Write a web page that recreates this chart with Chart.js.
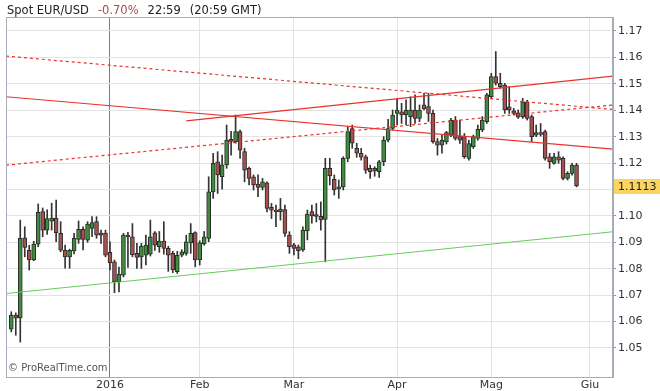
<!DOCTYPE html>
<html>
<head>
<meta charset="utf-8">
<script src="https://cdn.jsdelivr.net/npm/chart.js@4.4.0/dist/chart.umd.min.js"></script>
<style>
  body { margin: 0; background: #fff; }
  #wrap { position: relative; width: 660px; height: 391px; font-family: "DejaVu Sans", Verdana, sans-serif; }
  #title { position: absolute; left: 7px; top: 3px; font-size: 11.5px; color: #222; white-space: nowrap; }
  #title span { margin-left: 9px; }
  #title .chg { color: #a0504c; }
  #copy { position: absolute; left: 8px; top: 362px; font-size: 10px; color: #555; }
</style>
</head>
<body>
<div id="wrap">
  <canvas id="chart"></canvas>
  <div id="title">Spot EUR/USD<span class="chg">-0.70%</span><span>22:59</span><span>(20:59 GMT)</span></div>
  <div id="copy">© ProRealTime.com</div>
</div>
<script>
// EUR/USD daily candles, 1 Dec 2015 .. 27 May 2016, one entry per trading day
const opens = [
  1.0571, 1.0624, 1.0614, 1.0917, 1.0870, 1.0833, 1.0893, 1.1016, 1.0946, 1.0980,
  1.0992, 1.0934, 1.0870, 1.0845, 1.0867, 1.0911, 1.0949, 1.0908, 1.0953, 1.0978,
  1.0935, 1.0935, 1.0862, 1.0826, 1.0750, 1.0776, 1.0927, 1.0921, 1.0858, 1.0845,
  1.0851, 1.0855, 1.0936, 1.0883, 1.0905, 1.0877, 1.0858, 1.0789, 1.0851, 1.0858,
  1.0898, 1.0937, 1.0833, 1.0894, 1.0915, 1.1091, 1.1205, 1.1148, 1.1193, 1.1290,
  1.1281, 1.1319, 1.1243, 1.1180, 1.1148, 1.1120, 1.1108, 1.1125, 1.1032, 1.1022,
  1.1016, 1.1024, 1.0927, 1.0890, 1.0883, 1.0871, 1.0943, 1.1016, 1.1005, 1.0998,
  1.0987, 1.1180, 1.1138, 1.1102, 1.1110, 1.1218, 1.1331, 1.1256, 1.1237, 1.1224,
  1.1180, 1.1180, 1.1167, 1.1205, 1.1287, 1.1331, 1.1388, 1.1394, 1.1382, 1.1376,
  1.1401, 1.1369, 1.1420, 1.1414, 1.1388, 1.1281, 1.1268, 1.1280, 1.1306, 1.1363,
  1.1300, 1.1300, 1.1218, 1.1262, 1.1293, 1.1325, 1.1357, 1.1451, 1.1527, 1.1502,
  1.1495, 1.1413, 1.1398, 1.1390, 1.1376, 1.1432, 1.1376, 1.1306, 1.1315, 1.1319,
  1.1224, 1.1199, 1.1224, 1.1218, 1.1142, 1.1161, 1.1192
];
const highs = [
  1.0637, 1.0633, 1.0984, 1.0959, 1.0889, 1.0904, 1.1045, 1.1030, 1.1023, 1.1048,
  1.1060, 1.0978, 1.0889, 1.0874, 1.0934, 1.0981, 1.0959, 1.0978, 1.0997, 1.0997,
  1.0946, 1.0946, 1.0902, 1.0833, 1.0806, 1.0934, 1.0938, 1.0971, 1.0896, 1.0896,
  1.0927, 1.0984, 1.0941, 1.0941, 1.0978, 1.0885, 1.0866, 1.0866, 1.0872, 1.0927,
  1.0971, 1.0940, 1.0906, 1.0941, 1.1148, 1.1237, 1.1243, 1.1230, 1.1344, 1.1320,
  1.1382, 1.1325, 1.1256, 1.1185, 1.1155, 1.1155, 1.1142, 1.1129, 1.1047, 1.1041,
  1.1066, 1.1041, 1.0940, 1.0896, 1.0890, 1.0959, 1.1022, 1.1041, 1.1047, 1.1053,
  1.1218, 1.1218, 1.1155, 1.1136, 1.1224, 1.1338, 1.1344, 1.1275, 1.1256, 1.1230,
  1.1192, 1.1186, 1.1210, 1.1300, 1.1366, 1.1401, 1.1445, 1.1426, 1.1439, 1.1451,
  1.1458, 1.1420, 1.1464, 1.1464, 1.1401, 1.1293, 1.1306, 1.1320, 1.1369, 1.1376,
  1.1363, 1.1312, 1.1287, 1.1306, 1.1344, 1.1376, 1.1464, 1.1540, 1.1622, 1.1540,
  1.1502, 1.1489, 1.1407, 1.1401, 1.1445, 1.1438, 1.1382, 1.1344, 1.1350, 1.1325,
  1.1237, 1.1237, 1.1243, 1.1224, 1.1167, 1.1199, 1.1199
];
const lows = [
  1.0561, 1.0548, 1.0522, 1.0845, 1.0795, 1.0830, 1.0883, 1.0921, 1.0930, 1.0946,
  1.0902, 1.0864, 1.0802, 1.0802, 1.0856, 1.0896, 1.0871, 1.0900, 1.0921, 1.0915,
  1.0896, 1.0845, 1.0795, 1.0709, 1.0712, 1.0769, 1.0805, 1.0845, 1.0801, 1.0801,
  1.0814, 1.0848, 1.0869, 1.0862, 1.0855, 1.0790, 1.0785, 1.0782, 1.0845, 1.0851,
  1.0858, 1.0807, 1.0814, 1.0889, 1.0902, 1.1066, 1.1085, 1.1101, 1.1180, 1.1230,
  1.1275, 1.1218, 1.1129, 1.1117, 1.1098, 1.1073, 1.1098, 1.1015, 1.0990, 1.0959,
  1.0984, 1.0922, 1.0858, 1.0852, 1.0838, 1.0865, 1.0909, 1.0972, 1.0977, 1.0946,
  1.0826, 1.1117, 1.1079, 1.1066, 1.1098, 1.1205, 1.1256, 1.1222, 1.1211, 1.1161,
  1.1142, 1.1150, 1.1146, 1.1190, 1.1280, 1.1325, 1.1344, 1.1350, 1.1344, 1.1338,
  1.1350, 1.1357, 1.1401, 1.1357, 1.1275, 1.1230, 1.1237, 1.1272, 1.1300, 1.1287,
  1.1274, 1.1218, 1.1211, 1.1255, 1.1287, 1.1319, 1.1350, 1.1445, 1.1495, 1.1483,
  1.1388, 1.1388, 1.1382, 1.1369, 1.1369, 1.1363, 1.1281, 1.1300, 1.1302, 1.1211,
  1.1180, 1.1196, 1.1199, 1.1136, 1.1136, 1.1154, 1.1110
];
const closes = [
  1.0624, 1.0613, 1.0915, 1.0881, 1.0833, 1.0893, 1.1013, 1.0946, 1.0990, 1.0992,
  1.0936, 1.0870, 1.0845, 1.0870, 1.0915, 1.0949, 1.0911, 1.0969, 1.0975, 1.0927,
  1.0927, 1.0851, 1.0822, 1.0750, 1.0780, 1.0927, 1.0920, 1.0852, 1.0843, 1.0886,
  1.0889, 1.0921, 1.0889, 1.0905, 1.0877, 1.0851, 1.0795, 1.0851, 1.0864, 1.0902,
  1.0934, 1.0833, 1.0898, 1.0921, 1.1091, 1.1199, 1.1155, 1.1193, 1.1287, 1.1282,
  1.1319, 1.1249, 1.1173, 1.1142, 1.1117, 1.1108, 1.1129, 1.1028, 1.1022, 1.1016,
  1.1026, 1.0934, 1.0883, 1.0877, 1.0868, 1.0946, 1.1007, 1.1000, 1.0998, 1.0985,
  1.1180, 1.1151, 1.1098, 1.1110, 1.1218, 1.1319, 1.1275, 1.1237, 1.1222, 1.1173,
  1.1167, 1.1170, 1.1205, 1.1287, 1.1331, 1.1382, 1.1401, 1.1382, 1.1401, 1.1401,
  1.1369, 1.1401, 1.1405, 1.1388, 1.1281, 1.1268, 1.1287, 1.1315, 1.1363, 1.1293,
  1.1287, 1.1224, 1.1274, 1.1300, 1.1328, 1.1363, 1.1458, 1.1527, 1.1502, 1.1489,
  1.1401, 1.1401, 1.1388, 1.1374, 1.1432, 1.1369, 1.1300, 1.1315, 1.1308, 1.1218,
  1.1205, 1.1224, 1.1211, 1.1142, 1.1161, 1.1192, 1.1113
];

// first trading day of each month (bar index) and its label
const monthIdx = [22, 42, 63, 86, 107, 129];
const monthLabels = ['2016', 'Feb', 'Mar', 'Apr', 'Mag', 'Giu'];
const priceTicks = [1.05, 1.06, 1.07, 1.08, 1.09, 1.10, 1.11, 1.12, 1.13, 1.14, 1.15, 1.16, 1.17];

// trend lines as [bar index, price] pairs
const lineDownSolid = [[-1.18, 1.1451], [134.13, 1.1253]];
const lineUpSolid = [[39.0, 1.1360], [134.13, 1.1529]];
const lineDownDashed = [[-1.18, 1.1605], [134.13, 1.1403]];
const lineUpDashed = [[-1.18, 1.1192], [134.13, 1.1420]];
const lineSupport = [[-1.18, 1.0706], [134.13, 1.0940]];

const GREEN = '#3f8c3f';
const RED = '#a65050';
const TREND_RED = '#e8332c';
const AXIS = '#a3aeb8';
const GRID = '#e3e3e3';

Chart.defaults.font.family = '"DejaVu Sans", Verdana, sans-serif';
Chart.defaults.font.size = 11;
Chart.defaults.color = '#333';

const trend = (pts, color, dash) => ({
    type: 'line',
    data: pts.map(p => ({ x: p[0], y: p[1] })),
    borderColor: color,
    borderWidth: 1.2,
    borderDash: dash || [],
    pointRadius: 0,
    order: 0
});

const wicks = opens.map((o, i) => ({ x: i, y: [lows[i], highs[i]] }));
const bodies = opens.map((o, i) => ({ x: i, y: [o, closes[i]] }));
const bodyColors = opens.map((o, i) => closes[i] >= o ? GREEN : RED);

// plot frame + last price badge on the price axis
const framePlugin = {
    id: 'frame',
    afterDraw(chart) {
        const { ctx, chartArea: a, scales } = chart;
        ctx.save();
        ctx.strokeStyle = AXIS;
        ctx.lineWidth = 1;
        ctx.strokeRect(a.left + 0.5, a.top + 0.5, a.right - a.left - 1, a.bottom - a.top);

        const last = closes[closes.length - 1];
        const y = Math.round(scales.y.getPixelForValue(last));
        ctx.fillStyle = '#fbd462';
        ctx.fillRect(a.right + 1, y - 7, chart.width - a.right - 1, 15);
        ctx.fillStyle = '#222';
        ctx.font = '11px "DejaVu Sans"';
        ctx.textBaseline = 'middle';
        ctx.fillText(last.toFixed(4), a.right + 5, y + 1);
        ctx.restore();
    }
};

const config = {
    type: 'bar',
    data: {
        datasets: [
            trend(lineDownSolid, TREND_RED),
            trend(lineUpSolid, TREND_RED),
            trend(lineDownDashed, TREND_RED, [3, 3]),
            trend(lineUpDashed, TREND_RED, [3, 3]),
            { ...trend(lineSupport, '#66cc5c'), borderWidth: 1 },
            {
                data: bodies,
                backgroundColor: bodyColors,
                borderColor: '#2a2a2a',
                borderWidth: 1,
                borderSkipped: false,
                barThickness: 4,
                grouped: false,
                order: 1
            },
            {
                data: wicks,
                backgroundColor: '#333',
                borderWidth: 0,
                barThickness: 1,
                grouped: false,
                order: 2
            }
        ]
    },
    options: {
        responsive: true,
        maintainAspectRatio: false,
        animation: false,
        devicePixelRatio: 1,
        layout: { padding: { left: 6, top: 17, right: 0, bottom: 0 } },
        plugins: {
            legend: { display: false },
            tooltip: { enabled: false }
        },
        scales: {
            x: {
                type: 'linear',
                min: -1.18,
                max: 134.13,
                offset: false,
                afterBuildTicks: s => { s.ticks = monthIdx.map(v => ({ value: v })); },
                afterFit: s => { s.height = 14; },
                ticks: {
                    autoSkip: false,
                    maxRotation: 0,
                    padding: 2,
                    callback: (v, i) => monthLabels[i]
                },
                grid: {
                    offset: false,
                    drawTicks: false,
                    color: ctx => (ctx.tick && ctx.tick.value === monthIdx[0]) ? '#7d7d7d' : GRID
                },
                border: { color: AXIS }
            },
            y: {
                type: 'linear',
                position: 'right',
                min: 1.039,
                max: 1.1753,
                afterBuildTicks: s => { s.ticks = priceTicks.map(v => ({ value: v })); },
                afterFit: s => { s.width = 47; },
                ticks: {
                    padding: 2,
                    callback: v => v.toFixed(2)
                },
                grid: {
                    color: GRID,
                    tickLength: 3,
                    tickColor: '#999'
                },
                border: { color: AXIS }
            }
        }
    },
    plugins: [framePlugin]
};

new Chart(document.getElementById('chart'), config);
</script>
</body>
</html>
